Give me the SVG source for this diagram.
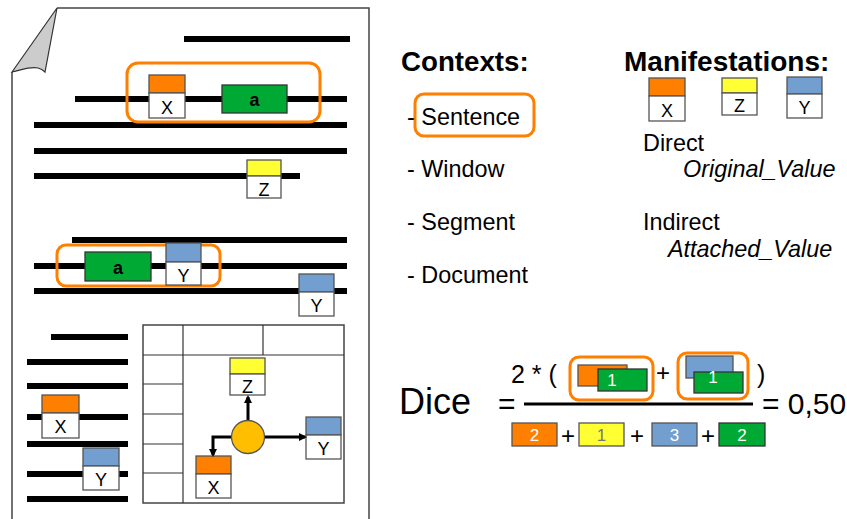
<svg xmlns="http://www.w3.org/2000/svg" width="847" height="519" viewBox="0 0 847 519">
<defs>
<style>
text{font-family:"Liberation Sans",Arial,sans-serif;fill:#000}
.ln{stroke:#000;stroke-width:6}
.wb{fill:#fff;stroke:#555;stroke-width:1.3}
.or{fill:#ff7f00;stroke:#555;stroke-width:1.3}
.ye{fill:#ffff33;stroke:#555;stroke-width:1.3}
.bl{fill:#729fcf;stroke:#555;stroke-width:1.3}
.gr{fill:#00a933;stroke:#333;stroke-width:1.3}
.hl{fill:none;stroke:#ff7f00;stroke-width:3}
.lbl{font-size:18px;text-anchor:middle}
.ctx{font-size:23.4px}
.tb{fill:none;stroke:#444;stroke-width:1.5}
.tl{stroke:#333;stroke-width:1.2}
.cn{fill:none;stroke:#000;stroke-width:3}
.wn{font-size:17px;fill:#fff;text-anchor:middle}
.pl{font-size:24px;text-anchor:middle}
.ab{font-size:18px;font-weight:bold;text-anchor:middle}
</style>
<marker id="ah" markerWidth="8" markerHeight="8" refX="6" refY="4" orient="auto" markerUnits="userSpaceOnUse">
<path d="M0,0 L8,4 L0,8 Z" fill="#000"/>
</marker>
</defs>

<g id="paper">
<path d="M57,8 L369,8 L369,519 M12,519 L12,72" fill="none" stroke="#444" stroke-width="1.5"/>
<path d="M57,8 L12,72 C22,70 30,66 38,68 C42,69 44,71 45,72 Z" fill="#ccc" stroke="#333" stroke-width="1.2"/>
</g>

<g id="text-lines">
<line class="ln" x1="184" y1="39" x2="350" y2="39"/>
<line class="ln" x1="75" y1="99" x2="347" y2="99"/>
<line class="ln" x1="34" y1="125" x2="347" y2="125"/>
<line class="ln" x1="34" y1="151" x2="347" y2="151"/>
<line class="ln" x1="34" y1="176" x2="300" y2="176"/>
<line class="ln" x1="72" y1="240" x2="347" y2="240"/>
<line class="ln" x1="34" y1="266" x2="347" y2="266"/>
<line class="ln" x1="34" y1="291" x2="347" y2="291"/>
<line class="ln" x1="51" y1="337" x2="128" y2="337"/>
<line class="ln" x1="27" y1="362" x2="128" y2="362"/>
<line class="ln" x1="27" y1="386" x2="128" y2="386"/>
<line class="ln" x1="27" y1="417" x2="128" y2="417"/>
<line class="ln" x1="27" y1="444" x2="128" y2="444"/>
<line class="ln" x1="27" y1="474" x2="128" y2="474"/>
<line class="ln" x1="27" y1="499" x2="128" y2="499"/>
</g>

<g id="sentence-highlight-1">
<rect class="hl" x="127" y="63" width="193" height="59" rx="11"/>
</g>
<g id="doc-x1">
<rect class="or" x="149" y="75" width="36" height="18"/>
<rect class="wb" x="149" y="93" width="36" height="25"/>
<text class="lbl" x="167" y="114">X</text>
</g>
<g id="doc-a1">
<rect class="gr" x="222" y="85" width="65" height="28"/>
<text class="ab" x="254.5" y="106">a</text>
</g>
<g id="doc-z1">
<rect class="ye" x="247" y="160" width="34" height="16"/>
<rect class="wb" x="247" y="176" width="34" height="22"/>
<text class="lbl" x="264" y="196">Z</text>
</g>

<g id="sentence-highlight-2">
<rect class="hl" x="57" y="245" width="163" height="41" rx="9"/>
</g>
<g id="doc-a2">
<rect class="gr" x="85" y="252" width="66" height="29"/>
<text class="ab" x="118" y="274">a</text>
</g>
<g id="doc-y1">
<rect class="bl" x="166" y="243" width="35" height="19"/>
<rect class="wb" x="166" y="262" width="35" height="23"/>
<text class="lbl" x="183.5" y="282">Y</text>
</g>
<g id="doc-y2">
<rect class="bl" x="299" y="274" width="35" height="18"/>
<rect class="wb" x="299" y="292" width="35" height="24"/>
<text class="lbl" x="316.5" y="312">Y</text>
</g>

<g id="doc-x2">
<rect class="or" x="42" y="395" width="37" height="18"/>
<rect class="wb" x="42" y="413" width="37" height="25"/>
<text class="lbl" x="60.5" y="433">X</text>
</g>
<g id="doc-y3">
<rect class="bl" x="83" y="448" width="36" height="18"/>
<rect class="wb" x="83" y="466" width="36" height="24"/>
<text class="lbl" x="101" y="486">Y</text>
</g>

<g id="table">
<rect class="tb" x="143" y="325" width="201" height="178"/>
<line class="tl" x1="183" y1="325" x2="183" y2="503"/>
<line class="tl" x1="263" y1="325" x2="263" y2="355"/>
<line class="tl" x1="143" y1="355" x2="344" y2="355"/>
<line class="tl" x1="143" y1="384" x2="183" y2="384"/>
<line class="tl" x1="143" y1="414" x2="183" y2="414"/>
<line class="tl" x1="143" y1="444" x2="183" y2="444"/>
<line class="tl" x1="143" y1="473" x2="183" y2="473"/>
</g>
<g id="tbl-z">
<rect class="ye" x="230" y="358" width="35" height="16"/>
<rect class="wb" x="230" y="374" width="35" height="21"/>
<text class="lbl" x="247.5" y="393">Z</text>
</g>
<g id="tbl-y">
<rect class="bl" x="306" y="417" width="35" height="18"/>
<rect class="wb" x="306" y="435" width="35" height="24"/>
<text class="lbl" x="323.5" y="455">Y</text>
</g>
<g id="tbl-x">
<rect class="or" x="196" y="456" width="35" height="18"/>
<rect class="wb" x="196" y="474" width="35" height="24"/>
<text class="lbl" x="213.5" y="494">X</text>
</g>
<g id="connectors">
<path class="cn" d="M248,421 L248,397" marker-end="url(#ah)"/>
<path class="cn" d="M265,437 L305,437" marker-end="url(#ah)"/>
<path class="cn" d="M232,437 L213,437 L213,455" marker-end="url(#ah)"/>
</g>
<g id="tbl-hub">
<circle cx="248" cy="437" r="16.5" fill="#ffbf00" stroke="#555" stroke-width="1.3"/>
</g>

<g id="contexts">
<text x="401" y="71" font-size="27.7" font-weight="bold">Contexts:</text>
<rect class="hl" x="415" y="94" width="119" height="42" rx="9"/>
<text class="ctx" x="407" y="125">- Sentence</text>
<text class="ctx" x="407" y="177">- Window</text>
<text class="ctx" x="407" y="230">- Segment</text>
<text class="ctx" x="407" y="283">- Document</text>
</g>

<g id="manifestations">
<text x="624" y="71" font-size="28" font-weight="bold">Manifestations:</text>
<rect class="or" x="649" y="78" width="36" height="18"/>
<rect class="wb" x="649" y="96" width="36" height="25"/>
<text class="lbl" x="667" y="117">X</text>
<rect class="ye" x="722" y="78" width="35" height="15"/>
<rect class="wb" x="722" y="93" width="35" height="22"/>
<text class="lbl" x="739.5" y="112">Z</text>
<rect class="bl" x="787" y="77" width="35" height="17"/>
<rect class="wb" x="787" y="94" width="35" height="24"/>
<text class="lbl" x="804.5" y="114">Y</text>
<text class="ctx" x="643" y="151">Direct</text>
<text class="ctx" x="683" y="177" font-style="italic">Original_Value</text>
<text class="ctx" x="643" y="230">Indirect</text>
<text class="ctx" x="668" y="257" font-style="italic">Attached_Value</text>
</g>

<g id="dice">
<text x="399" y="414" font-size="36">Dice</text>
<text x="498" y="414" font-size="30">=</text>
<text x="511" y="383" font-size="25">2 * (</text>
<line x1="524" y1="404" x2="753" y2="404" stroke="#000" stroke-width="3"/>
<text x="762" y="414" font-size="30">= 0,50</text>
<rect class="hl" x="570" y="357" width="83" height="43" rx="9"/>
<rect class="or" x="578" y="365" width="49" height="21"/>
<rect class="gr" x="598" y="369" width="49" height="22"/>
<text class="wn" x="612" y="386">1</text>
<text class="pl" x="663" y="381">+</text>
<rect class="hl" x="678" y="353" width="70" height="46" rx="9"/>
<rect class="bl" x="686" y="356" width="47" height="22"/>
<rect class="gr" x="694" y="372" width="49" height="21"/>
<text class="wn" x="713" y="383">1</text>
<text x="757" y="383" font-size="25">)</text>
<rect class="or" x="512" y="423" width="45" height="23"/>
<text class="wn" x="534.5" y="441">2</text>
<text class="pl" x="568" y="444">+</text>
<rect class="ye" x="579" y="423" width="45" height="23"/>
<text class="wn" x="601.5" y="441" style="fill:#777">1</text>
<text class="pl" x="637" y="444">+</text>
<rect class="bl" x="652" y="423" width="45" height="23"/>
<text class="wn" x="674.5" y="441">3</text>
<text class="pl" x="708" y="444">+</text>
<rect class="gr" x="719" y="423" width="46" height="23"/>
<text class="wn" x="742" y="441">2</text>
</g>
</svg>
